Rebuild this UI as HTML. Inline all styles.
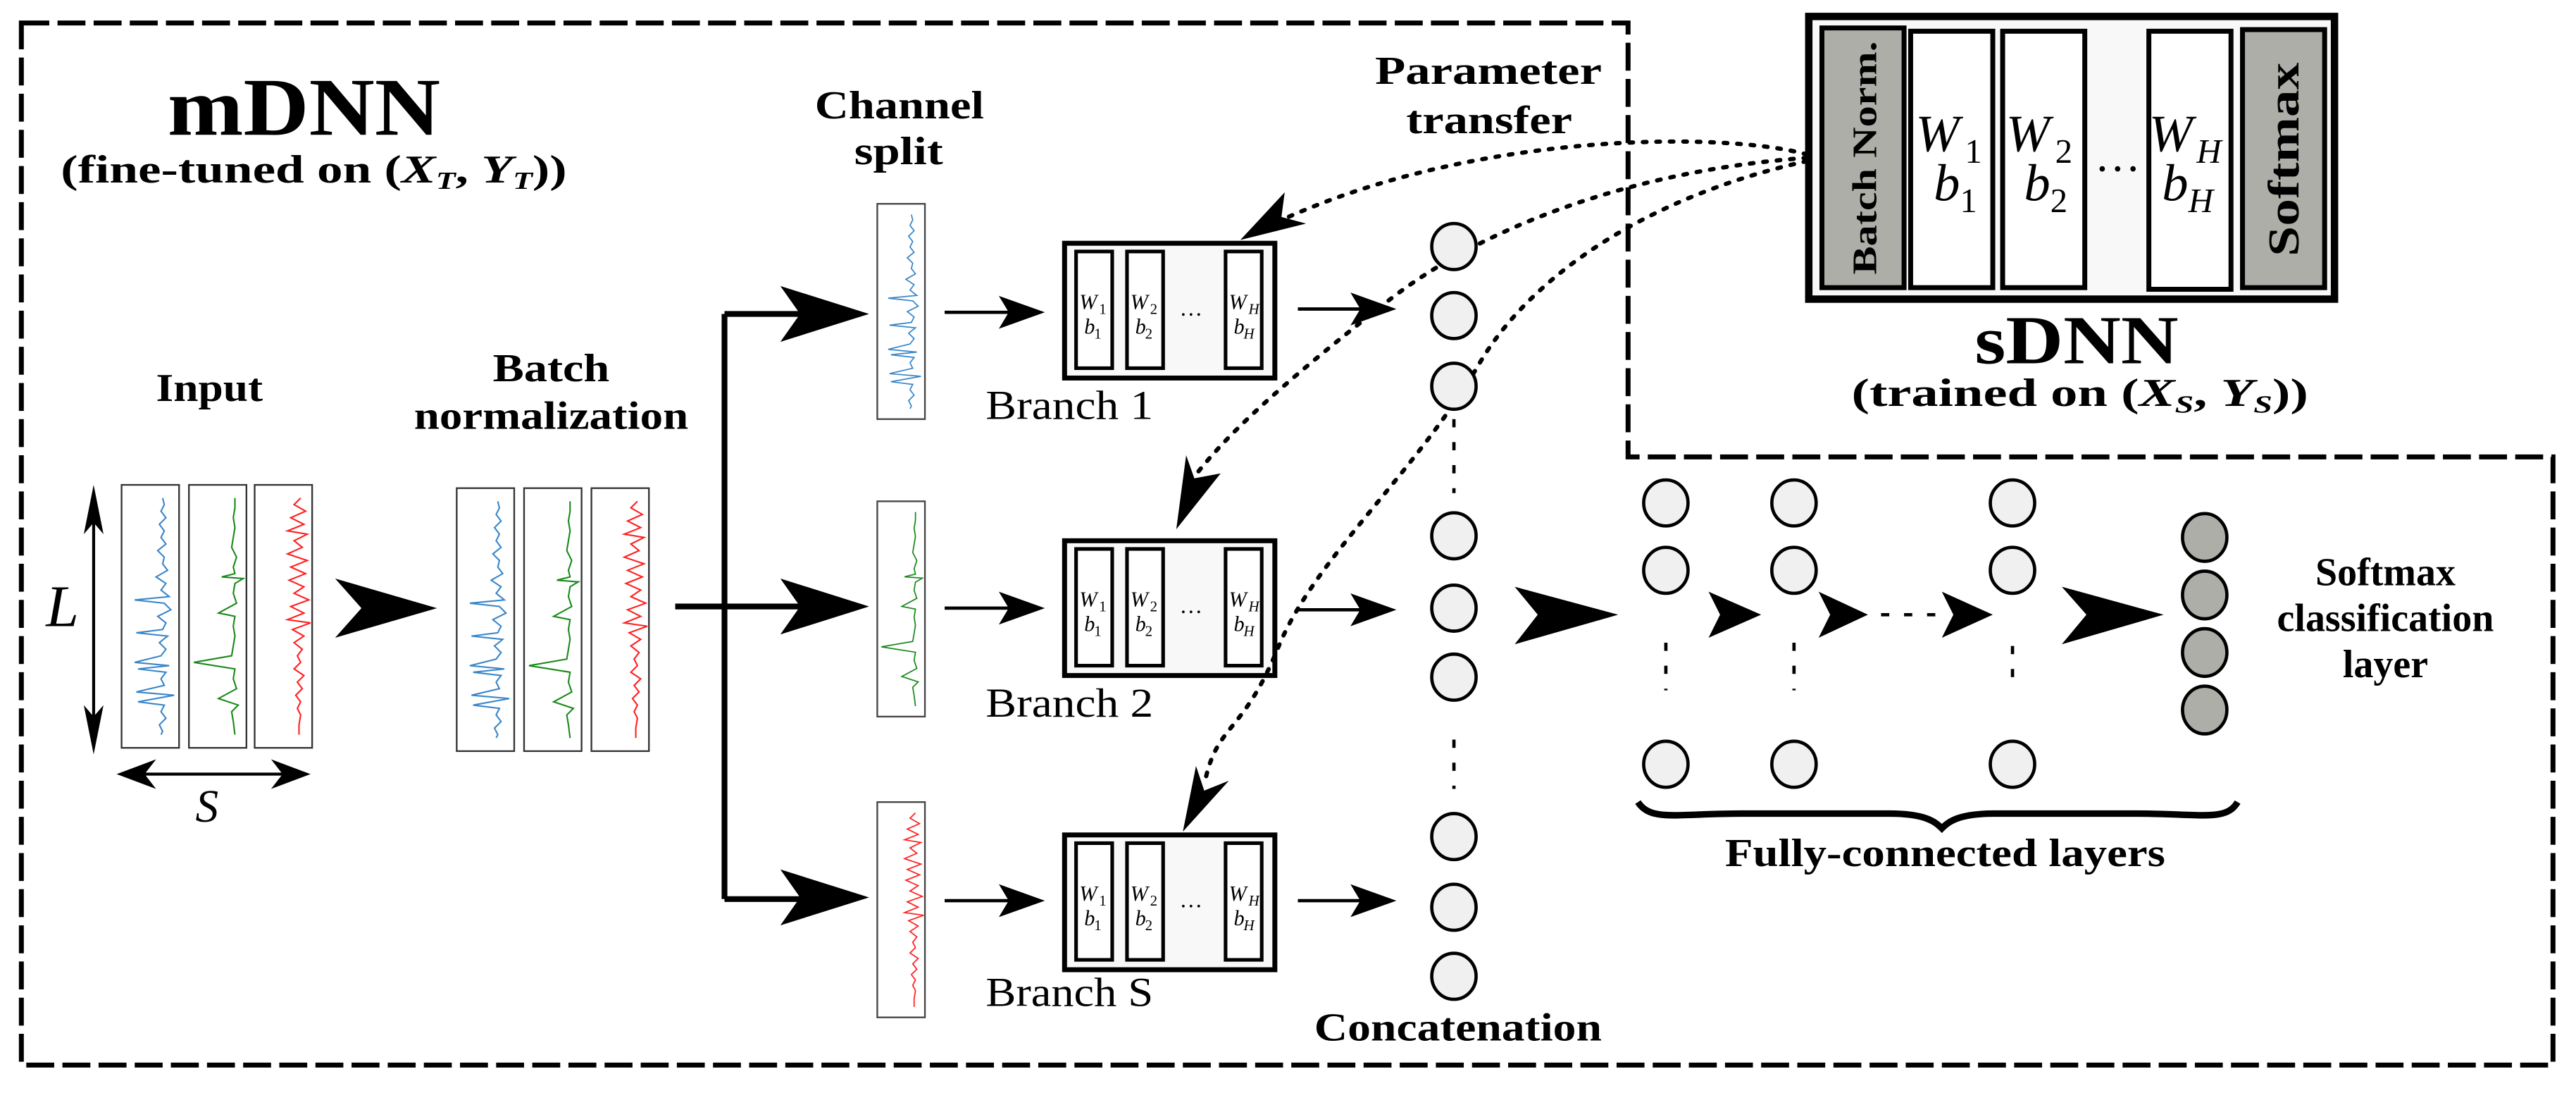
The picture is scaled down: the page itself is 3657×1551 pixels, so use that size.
<!DOCTYPE html>
<html><head><meta charset="utf-8">
<style>
html,body{margin:0;padding:0;background:#fff;}
svg{display:block;}
</style></head>
<body>
<svg width="3657" height="1551" viewBox="0 0 1568 665" xmlns="http://www.w3.org/2000/svg" xmlns:xlink="http://www.w3.org/1999/xlink" font-family="Liberation Serif, serif" style="font-family:'Liberation Serif',serif">
<defs>
<polyline id="tb" fill="none" stroke="#3a86c8" stroke-width="0.9" points="25,8 26,12 24,16 27,20 23,24 26,28 24,32 27,36 22,40 26,44 25,48 28,52 21,56 27,60 24,64 29,68 8,70 26,72 30,76 22,80 27,84 25,88 9,90 28,92 23,96 27,100 24,104 8,108 29,110 10,112 27,114 24,118 26,122 9,126 32,128 10,132 26,134 24,138 27,142 23,146 25,150 24,152"/>
<polyline id="tg" fill="none" stroke="#1a8a1a" stroke-width="0.9" points="28,8 28,14 27,20 28,26 27,32 26,38 29,44 27,50 28,54 20,56 33,57 28,60 27,66 29,72 18,78 28,80 27,86 28,92 27,98 26,104 3,108 28,112 27,118 29,124 18,130 30,134 26,138 27,144 28,152"/>
<polyline id="tr" fill="none" stroke="#ff2020" stroke-width="0.9" points="28,8 24,12 31,16 22,20 30,24 20,28 32,30 24,34 29,38 20,42 32,46 22,50 31,54 21,58 30,62 24,66 33,70 22,74 30,78 20,82 34,84 23,88 30,92 24,96 29,100 26,104 28,108 24,112 30,116 26,120 29,124 25,128 28,132 26,136 28,140 27,146 27,152"/>
<g id="sbox"><rect x="0" y="0" width="35" height="160" fill="#fff" stroke="#333" stroke-width="1"/></g>
<g id="br">
<rect x="0" y="0" width="128" height="82" fill="#f8f8f8" stroke="#000" stroke-width="3"/>
<rect x="7" y="5" width="22" height="71" fill="#fff" stroke="#000" stroke-width="2.2"/>
<rect x="38" y="5" width="22" height="71" fill="#fff" stroke="#000" stroke-width="2.2"/>
<rect x="98" y="5" width="22" height="71" fill="#fff" stroke="#000" stroke-width="2.2"/>
<text x="9" y="40" font-size="13" font-style="italic">W</text><text x="21" y="43" font-size="9">1</text>
<text x="12" y="55" font-size="13" font-style="italic">b</text><text x="18" y="58" font-size="9">1</text>
<text x="40" y="40" font-size="13" font-style="italic">W</text><text x="52" y="43" font-size="9">2</text>
<text x="43" y="55" font-size="13" font-style="italic">b</text><text x="49" y="58" font-size="9">2</text>
<text x="100" y="40" font-size="13" font-style="italic">W</text><text x="112" y="43" font-size="9" font-style="italic">H</text>
<text x="103" y="55" font-size="13" font-style="italic">b</text><text x="109" y="58" font-size="9" font-style="italic">H</text>
<text x="70" y="44" font-size="14">…</text>
</g>
<ellipse id="c" rx="13.5" ry="14" fill="#f0f0f0" stroke="#000" stroke-width="2"/>
<ellipse id="cg" rx="13.5" ry="14.5" fill="#aeaea8" stroke="#000" stroke-width="2"/>
</defs>

<!-- main dashed outline -->
<path d="M13,14 H991 V278 H1554 V648 H13 Z" fill="none" stroke="#000" stroke-width="3" stroke-dasharray="17,5"/>

<!-- sDNN box -->
<rect x="1101" y="10" width="320" height="172" fill="#f8f8f8" stroke="#000" stroke-width="4.5"/>
<rect x="1109" y="17" width="50" height="158" fill="#aeaea8" stroke="#000" stroke-width="3"/>
<rect x="1163" y="19" width="50" height="156" fill="#fff" stroke="#000" stroke-width="3"/>
<rect x="1219" y="19" width="50" height="156" fill="#fff" stroke="#000" stroke-width="3"/>
<rect x="1308" y="19" width="50" height="157" fill="#fff" stroke="#000" stroke-width="3"/>
<rect x="1365" y="18" width="50" height="157" fill="#aeaea8" stroke="#000" stroke-width="3"/>
<text font-weight="bold" x="0" y="0" font-size="21" textLength="142" lengthAdjust="spacingAndGlyphs" transform="translate(1142,167) rotate(-90)">Batch Norm.</text>
<text font-weight="bold" x="0" y="0" font-size="27" textLength="118" lengthAdjust="spacingAndGlyphs" transform="translate(1399,156) rotate(-90)">Softmax</text>
<text font-style="italic" x="1166" y="92" font-size="32">W</text><text x="1196" y="99" font-size="21">1</text>
<text font-style="italic" x="1177" y="122" font-size="32">b</text><text x="1193" y="129" font-size="21">1</text>
<text font-style="italic" x="1221" y="92" font-size="32">W</text><text x="1251" y="99" font-size="21">2</text>
<text font-style="italic" x="1232" y="122" font-size="32">b</text><text x="1248" y="129" font-size="21">2</text>
<text x="1275" y="104" font-size="28">…</text>
<text font-style="italic" x="1308" y="92" font-size="32">W</text><text font-style="italic" x="1337" y="99" font-size="21">H</text>
<text font-style="italic" x="1316" y="122" font-size="32">b</text><text font-style="italic" x="1332" y="129" font-size="21">H</text>

<text font-weight="bold" x="1202" y="221" font-size="42" textLength="124" lengthAdjust="spacingAndGlyphs">sDNN</text>
<text font-weight="bold" x="1127" y="247" font-size="24" textLength="278" lengthAdjust="spacingAndGlyphs">(trained on (<tspan font-style="italic">X</tspan><tspan font-size="15" dy="4" font-style="italic">S</tspan><tspan dy="-4">, </tspan><tspan font-style="italic">Y</tspan><tspan font-size="15" dy="4" font-style="italic">S</tspan><tspan dy="-4">))</tspan></text>

<!-- mDNN labels -->
<text font-weight="bold" x="102" y="82" font-size="50" textLength="166" lengthAdjust="spacingAndGlyphs">mDNN</text>
<text font-weight="bold" x="37" y="111" font-size="24" textLength="308" lengthAdjust="spacingAndGlyphs">(fine-tuned on (<tspan font-style="italic">X</tspan><tspan font-size="15" dy="4" font-style="italic">T</tspan><tspan dy="-4">, </tspan><tspan font-style="italic">Y</tspan><tspan font-size="15" dy="4" font-style="italic">T</tspan><tspan dy="-4">))</tspan></text>

<g font-weight="bold" font-size="24">
<text x="496" y="72" textLength="103" lengthAdjust="spacingAndGlyphs">Channel</text>
<text x="520" y="100" textLength="54" lengthAdjust="spacingAndGlyphs">split</text>
<text x="837" y="51" textLength="138" lengthAdjust="spacingAndGlyphs">Parameter</text>
<text x="856" y="81" textLength="101" lengthAdjust="spacingAndGlyphs">transfer</text>
<text x="95" y="244" textLength="65" lengthAdjust="spacingAndGlyphs">Input</text>
<text x="300" y="232" textLength="71" lengthAdjust="spacingAndGlyphs">Batch</text>
<text x="252" y="261" textLength="167" lengthAdjust="spacingAndGlyphs">normalization</text>
<text x="800" y="633" textLength="175" lengthAdjust="spacingAndGlyphs">Concatenation</text>
<text x="1050" y="527" textLength="268" lengthAdjust="spacingAndGlyphs">Fully-connected layers</text>
<text x="1452" y="356" text-anchor="middle">Softmax</text>
<text x="1452" y="384" text-anchor="middle">classification</text>
<text x="1452" y="412" text-anchor="middle">layer</text>
</g>
<g font-size="25">
<text x="600" y="255" textLength="102" lengthAdjust="spacingAndGlyphs">Branch 1</text>
<text x="600" y="436" textLength="102" lengthAdjust="spacingAndGlyphs">Branch 2</text>
<text x="600" y="612" textLength="102" lengthAdjust="spacingAndGlyphs">Branch S</text>
</g>
<text font-style="italic" x="28" y="381" font-size="36">L</text>
<text font-style="italic" x="119" y="500" font-size="28">S</text>

<!-- L and S arrows -->
<line x1="57" y1="305" x2="57" y2="450" stroke="#000" stroke-width="1.8"/>
<polygon points="57,295 63,325 57,318 51,325" fill="#000"/>
<polygon points="57,459 63,429 57,436 51,429" fill="#000"/>
<line x1="80" y1="471" x2="180" y2="471" stroke="#000" stroke-width="1.8"/>
<polygon points="71,471 95,462 88,471 95,480" fill="#000"/>
<polygon points="189,471 165,462 172,471 165,480" fill="#000"/>

<!-- signal boxes -->
<g transform="translate(74,295)"><use xlink:href="#sbox"/><use xlink:href="#tb"/></g>
<g transform="translate(115,295)"><use xlink:href="#sbox"/><use xlink:href="#tg"/></g>
<g transform="translate(155,295)"><use xlink:href="#sbox"/><use xlink:href="#tr"/></g>
<g transform="translate(278,297)"><use xlink:href="#sbox"/><use xlink:href="#tb"/></g>
<g transform="translate(319,297)"><use xlink:href="#sbox"/><use xlink:href="#tg"/></g>
<g transform="translate(360,297)"><use xlink:href="#sbox"/><use xlink:href="#tr"/></g>

<!-- big arrow input->bn -->
<polygon points="266,370 204,352 220,370 204,388" fill="#000"/>
<!-- split lines -->
<path d="M411,369 H500 M441,191 V547 M441,191 H500 M441,547 H500" fill="none" stroke="#000" stroke-width="3.5"/>
<polygon points="529,191 475,174 487,191 475,208" fill="#000"/>
<polygon points="529,369 475,352 487,369 475,386" fill="#000"/>
<polygon points="529,546 475,529 487,546 475,563" fill="#000"/>

<!-- channel split boxes -->
<rect x="534" y="124" width="29" height="131" fill="#fff" stroke="#444" stroke-width="1"/>
<rect x="534" y="305" width="29" height="131" fill="#fff" stroke="#444" stroke-width="1"/>
<rect x="534" y="488" width="29" height="131" fill="#fff" stroke="#444" stroke-width="1"/>
<g transform="translate(534,124) scale(0.83,0.82)"><use xlink:href="#tb"/></g>
<g transform="translate(534,305) scale(0.83,0.82)"><use xlink:href="#tg"/></g>
<g transform="translate(534,488) scale(0.83,0.82)"><use xlink:href="#tr"/></g>

<!-- small arrows -->
<g stroke="#000" stroke-width="2">
<line x1="575" y1="190" x2="625" y2="190"/><line x1="575" y1="370" x2="625" y2="370"/><line x1="575" y1="548" x2="625" y2="548"/>
<line x1="790" y1="188" x2="838" y2="188"/><line x1="790" y1="371" x2="838" y2="371"/><line x1="790" y1="548" x2="838" y2="548"/>
</g>
<g fill="#000">
<polygon points="636,190 608,180 614,190 608,200"/><polygon points="636,370 608,360 614,370 608,380"/><polygon points="636,548 608,538 614,548 608,558"/>
<polygon points="850,188 822,178 828,188 822,198"/><polygon points="850,371 822,361 828,371 822,381"/><polygon points="850,548 822,538 828,548 822,558"/>
</g>

<!-- branch boxes -->
<use xlink:href="#br" x="648" y="148"/>
<use xlink:href="#br" x="648" y="329"/>
<use xlink:href="#br" x="648" y="508"/>

<!-- dotted curves -->
<g fill="none" stroke="#000" stroke-width="2.6" stroke-dasharray="2.2,6" stroke-linecap="round">
<path d="M1100,94 C1050,80 900,80 782,133"/>
<path d="M1100,96 C990,104 900,140 845,183 S750,260 727,290"/>
<path d="M1100,98 C1000,120 930,170 900,222 C860,290 800,340 778,394 S740,440 733,478"/>
</g>
<g fill="#000">
<polygon points="755,146 782,117 780,132 795,136"/>
<polygon points="716,322 722,277 727,291 743,288"/>
<polygon points="720,506 728,466 733,481 748,475"/>
</g>

<!-- circles -->
<use xlink:href="#c" x="885" y="150"/><use xlink:href="#c" x="885" y="192"/><use xlink:href="#c" x="885" y="235"/>
<use xlink:href="#c" x="885" y="326"/><use xlink:href="#c" x="885" y="370"/><use xlink:href="#c" x="885" y="412"/>
<use xlink:href="#c" x="885" y="509"/><use xlink:href="#c" x="885" y="552"/><use xlink:href="#c" x="885" y="594"/>
<use xlink:href="#c" x="1014" y="306"/><use xlink:href="#c" x="1014" y="347"/><use xlink:href="#c" x="1014" y="465"/>
<use xlink:href="#c" x="1092" y="306"/><use xlink:href="#c" x="1092" y="347"/><use xlink:href="#c" x="1092" y="465"/>
<use xlink:href="#c" x="1225" y="306"/><use xlink:href="#c" x="1225" y="347"/><use xlink:href="#c" x="1225" y="465"/>
<use xlink:href="#cg" x="1342" y="327"/><use xlink:href="#cg" x="1342" y="362"/><use xlink:href="#cg" x="1342" y="397"/><use xlink:href="#cg" x="1342" y="432"/>

<g stroke="#000" stroke-width="2" stroke-dasharray="5,9">
<line x1="885" y1="255" x2="885" y2="300"/>
<line x1="885" y1="450" x2="885" y2="480"/>
<line x1="1014" y1="391" x2="1014" y2="420"/>
<line x1="1092" y1="391" x2="1092" y2="420"/>
<line x1="1225" y1="393" x2="1225" y2="420"/>
<line x1="1145" y1="374" x2="1180" y2="374"/>
</g>
<g fill="#000">
<polygon points="985,374 922,357 936,374 922,392"/>
<polygon points="1317,374 1255,357 1270,374 1255,392"/>
<polygon points="1072,374 1040,360 1047,374 1040,388"/>
<polygon points="1137,374 1107,360 1114,374 1107,388"/>
<polygon points="1213,374 1182,360 1189,374 1182,388"/>
</g>
<!-- brace -->
<path d="M997,488 C1005,500 1020,495 1060,495 L1150,495 C1172,495 1178,500 1182,504 C1186,500 1192,495 1214,495 L1300,495 C1340,495 1355,500 1362,488" fill="none" stroke="#000" stroke-width="4"/>
</svg>
</body></html>
